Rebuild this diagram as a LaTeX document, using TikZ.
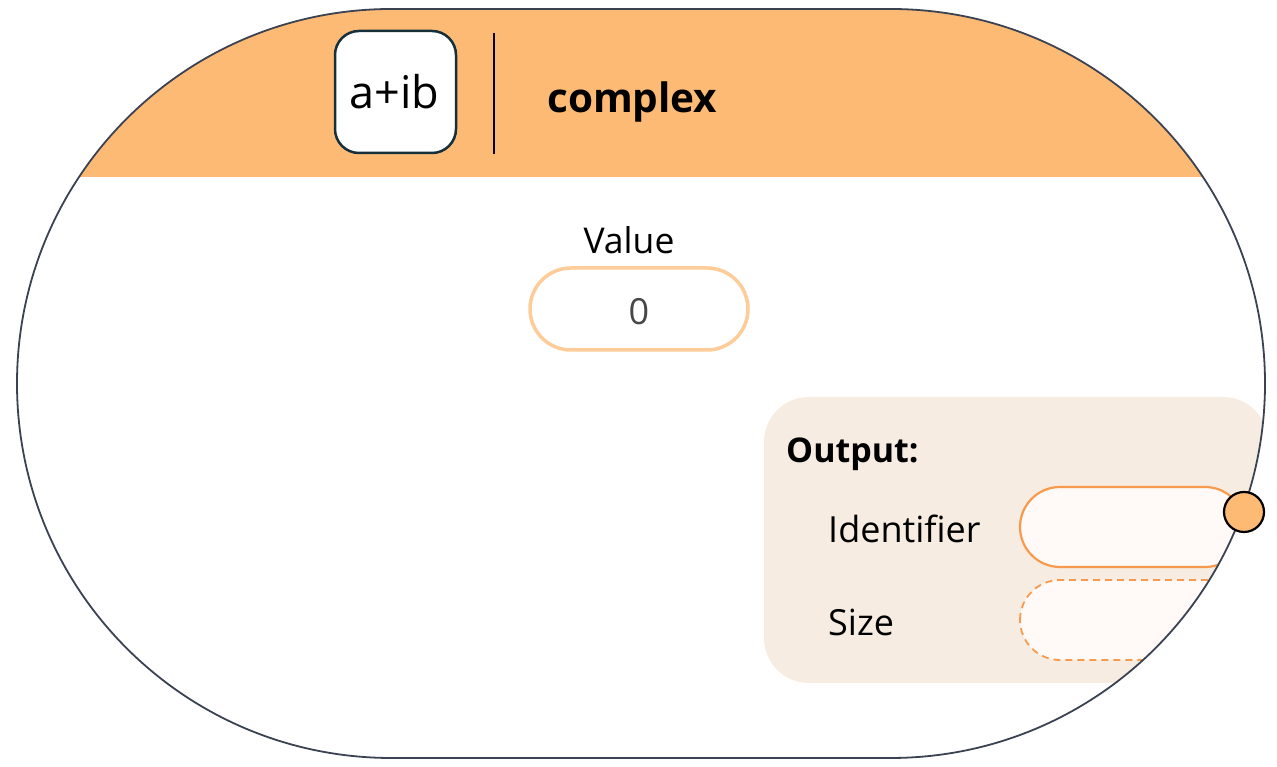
\documentclass[tikz,border=0pt]{standalone}
\usepackage{fontspec}
\setmainfont{Open Sans}
\begin{document}
\begin{tikzpicture}[x=1pt,y=1pt,
  txt/.style={inner sep=0pt,text=black},
  pill/.style={rounded corners=40pt},
  fs/.style={font=\fontsize{#1}{#1}\selectfont}]
\definecolor{hdr}{HTML}{FDBA74}
\definecolor{edge}{HTML}{3B4252}
\definecolor{iconb}{HTML}{15303A}
\definecolor{valb}{HTML}{FECC98}
\definecolor{panel}{HTML}{F6ECE2}
\definecolor{outb}{HTML}{F79A4E}
\definecolor{pillf}{HTML}{FFFAF7}
\useasboundingbox (0,0) rectangle (1277,767);
\def\stadium{(391.5,758) -- (890.5,758) arc[start angle=90,end angle=-90,radius=374.5] -- (391.5,9) arc[start angle=270,end angle=90,radius=374.5] -- cycle}
\fill[white] \stadium;
\begin{scope}
  \clip \stadium;
  \fill[hdr] (0,590) rectangle (1277,767);
  \fill[panel, rounded corners=45pt] (764,84) rectangle (1268,370);
  \draw[outb, line width=2.2pt, fill=pillf, pill] (1020,200) rectangle (1245,280);
  \draw[outb, line width=1.8pt, fill=pillf, pill, dash pattern=on 7pt off 5pt] (1020,107) rectangle (1270,187);
\end{scope}
\draw[edge, line width=1.8pt] \stadium;
% icon
\draw[iconb, line width=2.5pt, fill=white, rounded corners=24pt] (335,614) rectangle (456,736);
\node[txt, fs=45, anchor=base] (icon) at (394.5,658) {a+ib};
\draw[black, line width=2pt] (494,613) -- (494,734);
\node[txt, anchor=base west, font=\fontsize{40.5}{40}\selectfont\bfseries] (title) at (547,654) {complex};
% value
\node[txt, fs=35.5, anchor=base] (vlabel) at (629,513) {Value};
\draw[valb, line width=3.5pt, fill=white, rounded corners=41pt] (530,417) rectangle (748,499);
\node[txt, fs=36, anchor=base, text=black!72] (vval) at (639,442) {0};
% output
\node[txt, anchor=base west, font=\fontsize{34}{34}\selectfont\bfseries] (outl) at (786,304) {Output:};
\node[txt, fs=36, anchor=base west] (idl) at (828,224) {Identifier};
\node[txt, fs=36, anchor=base west] (szl) at (828,131) {Size};
\node[circle, draw=black, line width=2.2pt, fill=hdr, minimum size=40pt, inner sep=0pt] (port) at (1244,255) {};
\end{tikzpicture}
\end{document}
